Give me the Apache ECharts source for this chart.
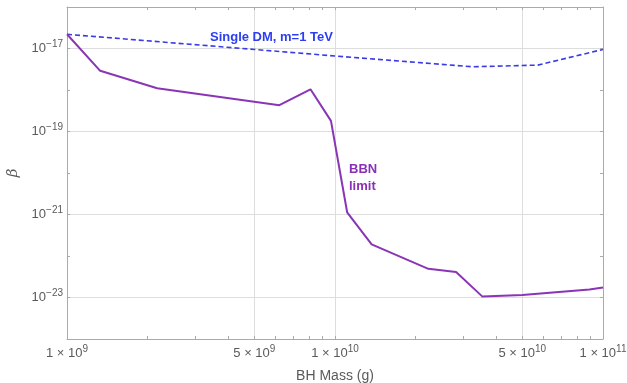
<!DOCTYPE html>
<html>
<head>
<meta charset="utf-8">
<script src="https://cdn.jsdelivr.net/npm/echarts@6/dist/echarts.min.js"></script>
<style>html,body{margin:0;padding:0;background:#fff}#c{width:627px;height:383px}</style>
</head>
<body>
<div id="c"></div>
<script>
// BBN limit curve
const bbnMass = [1e9, 1.33e9, 2.17e9, 6.2e9, 8.1e9, 9.66e9, 1.11e10, 1.37e10, 2.23e10, 2.83e10, 3.55e10, 5e10, 8.9e10, 1e11];
const bbnBeta = [2.2e-17, 2.9e-18, 1.1e-18, 4.3e-19, 1.04e-18, 1.8e-19, 1.13e-21, 1.9e-22, 4.9e-23, 4.1e-23, 1.05e-23, 1.15e-23, 1.55e-23, 1.75e-23];
// Single DM, m=1 TeV curve
const dmMass = [1e9, 1e10, 3.27e10, 5.71e10, 1e11];
const dmBeta = [2.2e-17, 6.6e-18, 3.63e-18, 3.98e-18, 9.5e-18];
// tick labels
const xTickValues = [1e9, 5e9, 1e10, 5e10, 1e11];
const xTickMantissa = ['1', '5', '1', '5', '1'];
const xTickExponent = ['9', '9', '10', '10', '11'];
const yTickValues = [1e-23, 1e-21, 1e-19, 1e-17];
const yTickExponent = ['\u221223', '\u221221', '\u221219', '\u221217'];
const xMinorTicks = [1e9,2e9,3e9,4e9,5e9,6e9,7e9,8e9,9e9,1e10,2e10,3e10,4e10,5e10,6e10,7e10,8e10,9e10,1e11];
const yMinorTicks = [1e-24,1e-23,1e-22,1e-21,1e-20,1e-19,1e-18,1e-17,1e-16];
const xGridValues = [5e9, 1e10, 5e10];
const yGridValues = [1e-23, 1e-21, 1e-19, 1e-17];

const L = v => Math.log10(v);
const frame = '#aaaaaa';
const textCol = '#5a5a5a';
const font = 'Liberation Sans';
const rich = {
  b: {fontSize: 13, color: textCol, fontFamily: font},
  s: {fontSize: 10, color: textCol, fontFamily: font, padding: [0, 0, 8, 0]}
};
function nearIdx(arr, v) {
  let best = 0, bd = 1e9;
  arr.forEach((a, i) => { const d = Math.abs(L(a) - v); if (d < bd) { bd = d; best = i; } });
  return best;
}
const common = {type: 'value', splitLine: {show: false}};

const chart = echarts.init(document.getElementById('c'));
chart.setOption({
  animation: false,
  backgroundColor: '#fff',
  grid: {left: 67, right: 24, top: 7, bottom: 44, containLabel: false, outerBoundsMode: 'none'},
  xAxis: [
    {type: 'log', logBase: 10, min: 1e9, max: 1e11, show: false},
    Object.assign({}, common, {min: 9, max: 11, position: 'bottom',
      axisLine: {show: true, lineStyle: {color: frame, width: 1}},
      axisTick: {show: true, inside: true, length: 3, lineStyle: {color: frame}, customValues: xMinorTicks.map(L)},
      axisLabel: {show: true, margin: 5, customValues: xTickValues.map(L), rich: rich, hideOverlap: false,
        formatter: v => { const i = nearIdx(xTickValues, v); return '{b|' + xTickMantissa[i] + ' \u00d7 10}{s|' + xTickExponent[i] + '}'; }},
      name: 'BH Mass (g)', nameLocation: 'middle', nameGap: 30,
      nameTextStyle: {fontSize: 14, color: textCol, fontFamily: font}
    }),
    Object.assign({}, common, {min: 9, max: 11, position: 'top',
      axisLine: {show: true, lineStyle: {color: frame, width: 1}},
      axisTick: {show: true, inside: true, length: 3, lineStyle: {color: frame}, customValues: xMinorTicks.map(L)},
      axisLabel: {show: false}
    }),
    Object.assign({}, common, {min: 9, max: 11, position: 'bottom',
      axisLine: {show: false}, axisLabel: {show: false},
      axisTick: {show: false, customValues: xGridValues.map(L)},
      splitLine: {show: true, lineStyle: {color: '#dddddd', width: 1}}
    })
  ],
  yAxis: [
    {type: 'log', logBase: 10, min: 1e-24, max: 1e-16, show: false},
    Object.assign({}, common, {min: -24, max: -16, position: 'left',
      axisLine: {show: true, lineStyle: {color: frame, width: 1}},
      axisTick: {show: true, inside: true, length: 3, lineStyle: {color: frame}, customValues: yMinorTicks.map(L)},
      axisLabel: {show: true, margin: 4, customValues: yTickValues.map(L), rich: rich,
        formatter: v => { const i = nearIdx(yTickValues, v); return '{b|10}{s|' + yTickExponent[i] + '}'; }},
      name: '\u03b2', nameLocation: 'middle', nameGap: 42, nameRotate: 90,
      nameTextStyle: {fontSize: 15, color: textCol, fontFamily: 'DejaVu Serif', fontStyle: 'italic'}
    }),
    Object.assign({}, common, {min: -24, max: -16, position: 'right',
      axisLine: {show: true, lineStyle: {color: frame, width: 1}},
      axisTick: {show: true, inside: true, length: 3, lineStyle: {color: frame}, customValues: yMinorTicks.map(L)},
      axisLabel: {show: false}
    }),
    Object.assign({}, common, {min: -24, max: -16, position: 'left',
      axisLine: {show: false}, axisLabel: {show: false},
      axisTick: {show: false, customValues: yGridValues.map(L)},
      splitLine: {show: true, lineStyle: {color: '#dddddd', width: 1}}
    })
  ],
  series: [
    {
      type: 'line', xAxisIndex: 0, yAxisIndex: 0, symbol: 'none', z: 5,
      data: dmMass.map((m, i) => [m, dmBeta[i]]),
      lineStyle: {color: '#3b3be6', width: 1.6, type: [5, 3]}
    },
    {
      type: 'line', xAxisIndex: 0, yAxisIndex: 0, symbol: 'none', z: 6,
      data: bbnMass.map((m, i) => [m, bbnBeta[i]]),
      lineStyle: {color: '#8a35b5', width: 2}
    }
  ],
  graphic: [
    {type: 'text', left: 210, top: 31, z: 10,
      style: {text: 'Single DM, m=1 TeV', fill: '#2c3ef2', font: 'bold 13px "Liberation Sans"'}},
    {type: 'text', left: 349, top: 161, z: 10,
      style: {text: 'BBN\nlimit', fill: '#8a2fb8', font: 'bold 13px "Liberation Sans"', lineHeight: 17}}
  ]
});
</script>
</body>
</html>
